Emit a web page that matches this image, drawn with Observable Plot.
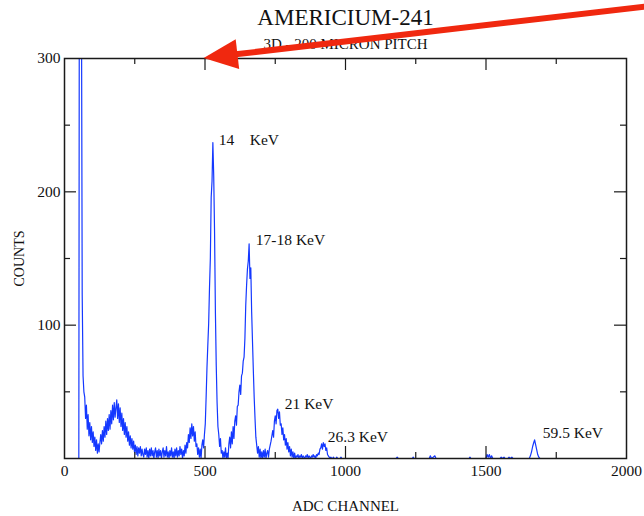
<!DOCTYPE html>
<html>
<head>
<meta charset="utf-8">
<script src="https://cdn.jsdelivr.net/npm/d3@7"></script>
<script src="https://cdn.jsdelivr.net/npm/@observablehq/plot@0.6"></script>
<style>
  html, body { margin: 0; padding: 0; background: #fff; }
  #chart svg text { white-space: pre; }
</style>
</head>
<body>
<div id="chart"></div>
<script>
// Titles and axis labels
const title = "AMERICIUM-241";
const subtitle = "3D - 200 MICRON PITCH";
const xLabel = "ADC CHANNEL";
const yLabel = "COUNTS";

// Tick values
const xTickLabels = [0, 500, 1000, 1500, 2000];
const yTickLabels = [100, 200, 300];
const xMajorTicks = [500, 1000, 1500];
const xMinorTicks = [250, 750, 1250, 1750];
const yMajorTicks = [100, 200];
const yMinorTicks = [50, 150, 250];

// Am-241 spectrum: counts in 3-channel bins, first bin at channel 42
const firstChannel = 42;
const binWidth = 3;
const counts = [
  0, 0, 0, 0, 620, 560, 380, 123, 62, 50,
  46, 30, 40, 22, 33, 17, 27, 14, 24, 12,
  20, 9, 16, 6, 14, 4, 11, 5, 12, 18,
  11, 21, 13, 24, 16, 28, 18, 30, 21, 33,
  22, 36, 26, 40, 29, 42, 31, 38, 44, 30,
  41, 27, 38, 24, 34, 21, 30, 18, 27, 16,
  24, 13, 20, 10, 17, 8, 15, 7, 13, 5,
  10, 3, 9, 2, 8, 4, 9, 2, 7, 3,
  1, 7, 3, 8, 1, 6, 0, 7, 2, 8,
  2, 6, 0, 5, 8, 1, 6, 0, 7, 2,
  6, 0, 5, 8, 1, 6, 2, 9, 1, 5,
  0, 6, 2, 8, 1, 5, 0, 7, 2, 8,
  1, 6, 2, 9, 3, 7, 0, 6, 2, 10,
  4, 12, 8, 18, 12, 23, 15, 26, 17, 24,
  13, 20, 9, 11, 3, 8, 1, 7, 0, 10,
  14, 8, 18, 26, 46, 68, 85, 101, 128, 150,
  196, 208, 237, 212, 170, 110, 70, 42, 24, 18,
  9, 15, 4, 6, 0, 5, 1, 8, 0, 4,
  0, 11, 16, 8, 20, 11, 24, 15, 28, 32,
  25, 39, 40, 50, 55, 48, 62, 64, 73, 76,
  90, 115, 130, 142, 148, 161, 135, 143, 110, 88,
  66, 46, 30, 16, 10, 4, 9, 1, 7, 0,
  5, 0, 6, 1, 7, 0, 4, 6, 1, 7,
  10, 13, 17, 21, 16, 28, 32, 26, 36, 37,
  30, 35, 25, 26, 18, 23, 14, 18, 10, 15,
  7, 12, 5, 9, 2, 7, 1, 5, 0, 4,
  0, 2, 1, 3, 0, 2, 1, 3, 0, 2,
  1, 0, 2, 1, 3, 0, 2, 1, 0, 2,
  1, 3, 1, 2, 0, 3, 2, 4, 3, 7,
  8, 11, 7, 12, 9, 11, 6, 8, 3, 2,
  1, 0, 1, 0, 0, 1, 0, 0, 0, 1,
  0, 0, 0, 0, 1, 0, 0, 0, 0, 0
];

// Sparse high-channel region, including the 59.5 keV gamma line
const tailChannels = [1000, 1180, 1184, 1188, 1238, 1241, 1244, 1298, 1302, 1306, 1312, 1318, 1322,
  1440, 1443, 1446, 1500, 1504, 1508, 1512, 1516, 1520, 1524, 1550, 1554, 1558, 1564, 1568,
  1578, 1582, 1586, 1592, 1596, 1654, 1658, 1662, 1666, 1670, 1673, 1676, 1680, 1684, 1688, 1692, 2000];
const tailCounts = [0, 0, 1, 0, 0, 1, 0, 0, 2, 0, 1, 2, 0,
  0, 1, 0, 0, 3, 1, 3, 0, 2, 0, 0, 1, 0, 1, 0,
  0, 1, 0, 1, 0, 0, 2, 5, 9, 12, 14, 11, 7, 3, 1, 0, 0];

// Peak annotations (left edge channel, vertical centre in counts)
const peakLabels = ["14    KeV", "17-18 KeV", "21 KeV", "26.3 KeV", "59.5 KeV"];
const peakLabelChannels = [549, 681, 784, 937, 1702];
const peakLabelCounts = [239, 164, 41, 16, 19];

// Red pointer toward channel 500 at the top of the scale
const pointerFrom = [2085, 339];
const pointerTo = [497, 300];

const spectrum = counts
  .map((c, i) => ({channel: firstChannel + i * binWidth, count: c}))
  .concat(tailChannels.map((ch, i) => ({channel: ch, count: tailCounts[i]})));

const W = 644, H = 516;
const mL = 64, mR = 18, mT = 58, mB = 58;
const frameW = W - mL - mR, frameH = H - mT - mB;
const majorLen = 12, minorLen = 6;
const ink = "#1a1a1a";

const plot = Plot.plot({
  width: W,
  height: H,
  marginLeft: mL,
  marginRight: mR,
  marginTop: mT,
  marginBottom: mB,
  style: {
    fontFamily: "'Liberation Serif', 'Times New Roman', serif",
    fontSize: "15px",
    color: "#111",
    background: "#fff",
    overflow: "visible"
  },
  x: {domain: [0, 2000], axis: null},
  y: {domain: [0, 300], axis: null},
  marks: [
    Plot.line(spectrum, {x: "channel", y: "count", stroke: "#1438ff", strokeWidth: 1.2, clip: true}),
    // inward ticks on all four sides
    Plot.ruleX(xMajorTicks, {insetTop: frameH - majorLen, stroke: ink, strokeWidth: 1.2}),
    Plot.ruleX(xMinorTicks, {insetTop: frameH - minorLen, stroke: ink, strokeWidth: 1.2}),
    Plot.ruleX(xMajorTicks, {insetBottom: frameH - majorLen, stroke: ink, strokeWidth: 1.2}),
    Plot.ruleX(xMinorTicks, {insetBottom: frameH - minorLen, stroke: ink, strokeWidth: 1.2}),
    Plot.ruleY(yMajorTicks, {insetRight: frameW - majorLen, stroke: ink, strokeWidth: 1.2}),
    Plot.ruleY(yMinorTicks, {insetRight: frameW - minorLen, stroke: ink, strokeWidth: 1.2}),
    Plot.ruleY(yMajorTicks, {insetLeft: frameW - majorLen, stroke: ink, strokeWidth: 1.2}),
    Plot.ruleY(yMinorTicks, {insetLeft: frameW - minorLen, stroke: ink, strokeWidth: 1.2}),
    Plot.frame({stroke: ink, strokeWidth: 1.5}),
    // tick labels
    Plot.text(xTickLabels, {x: d => d, text: d => String(d), frameAnchor: "bottom", dy: 13, lineAnchor: "middle", fontSize: 15.5, fill: "#111"}),
    Plot.text(yTickLabels, {y: d => d, text: d => String(d), frameAnchor: "left", dx: -4, textAnchor: "end", lineAnchor: "middle", fontSize: 15.5, fill: "#111"}),
    // axis titles
    Plot.text([xLabel], {text: d => d, frameAnchor: "bottom", dy: 48, lineAnchor: "middle", fontSize: 15, fill: "#111"}),
    Plot.text([yLabel], {text: d => d, frameAnchor: "left", dx: -45, dy: 28, rotate: -90, lineAnchor: "middle", fontSize: 14, fill: "#111"}),
    // chart titles
    Plot.text([title], {text: d => d, frameAnchor: "top", dy: -41, lineAnchor: "middle", fontSize: 23, fill: "#111"}),
    Plot.text([subtitle], {text: d => d, frameAnchor: "top", dy: -14, lineAnchor: "middle", fontSize: 15, fill: "#111"}),
    // peak labels
    Plot.text(peakLabels, {
      x: (d, i) => peakLabelChannels[i],
      y: (d, i) => peakLabelCounts[i],
      text: d => d,
      textAnchor: "start",
      lineAnchor: "middle",
      fontSize: 15.5,
      fill: "#111"
    })
  ]
});

document.getElementById("chart").appendChild(plot);

// red pointer arrow drawn through the plot's own scales
const sx = plot.scale("x"), sy = plot.scale("y");
const tx = sx.apply(pointerTo[0]), ty = sy.apply(pointerTo[1]);
const fx = sx.apply(pointerFrom[0]), fy = sy.apply(pointerFrom[1]);
const len = Math.hypot(fx - tx, fy - ty);
const ux = (fx - tx) / len, uy = (fy - ty) / len;
const nx = -uy, ny = ux;
const headLen = 34, headHalf = 15;
const bx = tx + ux * headLen, by = ty + uy * headLen;
const g = d3.select(plot).append("g").attr("class", "pointer");
g.append("line")
  .attr("x1", fx).attr("y1", fy)
  .attr("x2", bx - ux * 4).attr("y2", by - uy * 4)
  .attr("stroke", "#f0280f").attr("stroke-width", 6);
g.append("polygon")
  .attr("points", [[tx, ty], [bx + nx * headHalf, by + ny * headHalf], [bx - nx * headHalf, by - ny * headHalf]].map(p => p.join(",")).join(" "))
  .attr("fill", "#f0280f");
</script>
</body>
</html>
